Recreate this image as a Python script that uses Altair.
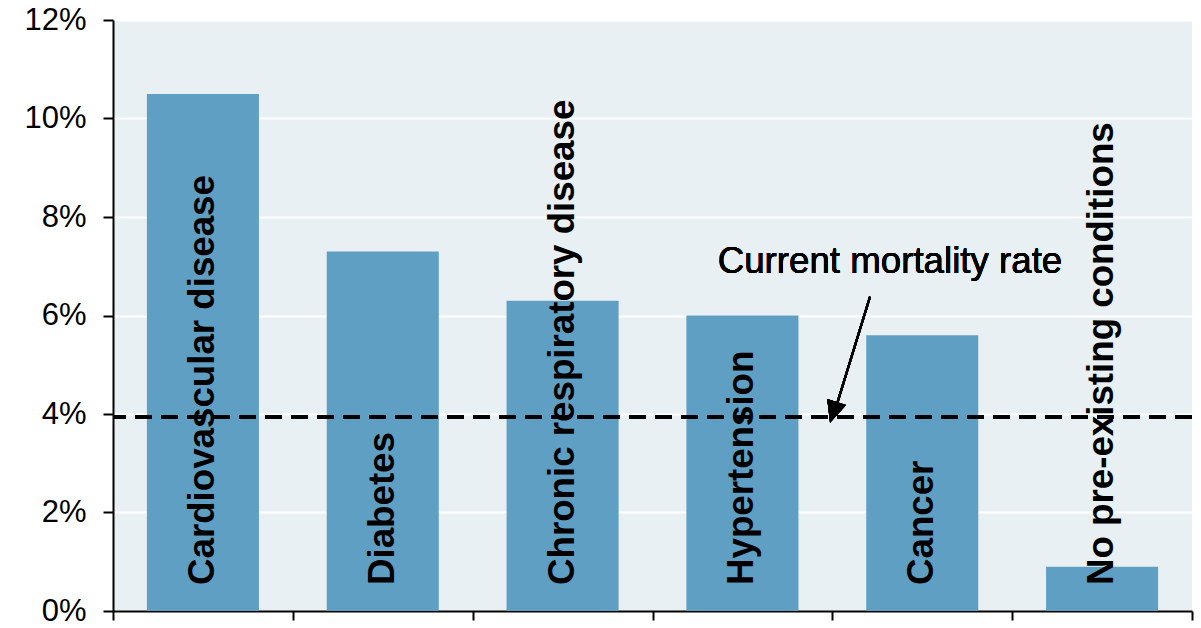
import altair as alt
import pandas as pd

# Case fatality rate by pre-existing condition
conditions = [
    "Cardiovascular disease",
    "Diabetes",
    "Chronic respiratory disease",
    "Hypertension",
    "Cancer",
    "No pre-existing conditions",
]
rates = [0.105, 0.073, 0.063, 0.060, 0.056, 0.009]
current_rate = 0.0394
y_ticks = [0.0, 0.02, 0.04, 0.06, 0.08, 0.10, 0.12]

annotation_text = "Current mortality rate"

df = pd.DataFrame({"condition": conditions, "rate": rates})

FONT = "Liberation Sans"
BAR_COLOR = "#5F9FC4"
BG = "#E9F0F4"
W, H = 1079, 591

x = alt.X(
    "condition:N",
    sort=conditions,
    scale=alt.Scale(paddingInner=0, paddingOuter=0),
    axis=alt.Axis(
        title=None,
        labels=False,
        tickBand="extent",
        ticks=True,
        tickSize=9,
        tickWidth=2,
        tickColor="black",
        domainColor="black",
        domainWidth=2,
        grid=False,
    ),
)
y = alt.Y(
    "rate:Q",
    scale=alt.Scale(domain=[0, 0.12], nice=False),
    axis=alt.Axis(
        title=None,
        values=y_ticks,
        format=".0%",
        labelFont=FONT,
        labelFontSize=31,
        labelColor="black",
        labelPadding=17,
        tickSize=10,
        tickWidth=2,
        tickColor="black",
        domainColor="black",
        domainWidth=2,
        grid=True,
        gridColor="white",
        gridWidth=2,
    ),
)

bars = alt.Chart(df).mark_bar(
    color=BAR_COLOR, width=alt.RelativeBandSize(0.623)
).encode(x=x, y=y)

labels = alt.Chart(df).mark_text(
    angle=270,
    align="left",
    baseline="middle",
    font=FONT,
    fontSize=36.7,
    fontWeight="bold",
    color="black",
    dx=26,
).encode(
    x=alt.X("condition:N", sort=conditions),
    y=alt.datum(0),
    text="condition:N",
)

avg_line = alt.Chart(df).mark_rule(
    color="black", strokeWidth=3, strokeDash=[17, 9]
).encode(y=alt.datum(current_rate))

# Annotation: label and arrow pointing at the dashed line
note = alt.Chart(df).mark_text(
    font=FONT, fontSize=36.7, color="black", align="center", baseline="alphabetic"
).encode(
    x=alt.value(777),
    y=alt.datum(0.0686),
    text=alt.value(annotation_text),
)

arrow_shaft = alt.Chart(df).mark_rule(color="black", strokeWidth=2.2).encode(
    x=alt.value(757),
    x2=alt.value(720),
    y=alt.datum(0.0638),
    y2=alt.datum(0.0394),
)

arrow_head = alt.Chart(df).mark_point(
    shape="M0,0L-0.45,-1L0.45,-1Z",
    filled=True,
    opacity=1,
    color="black",
    size=1936,
    angle=17.6,
).encode(
    x=alt.value(717),
    y=alt.datum(0.0382),
)

chart = (
    alt.layer(bars, labels, avg_line, arrow_shaft, arrow_head, note)
    .properties(
        width=W,
        height=H,
        autosize=alt.AutoSizeParams(type="none"),
        padding={"left": 113, "top": 20, "right": 9, "bottom": 17},
        background="white",
    )
    .configure_view(fill=BG, stroke=None)
)

chart.save("out.html", embed_options={"renderer": "svg", "actions": False})
